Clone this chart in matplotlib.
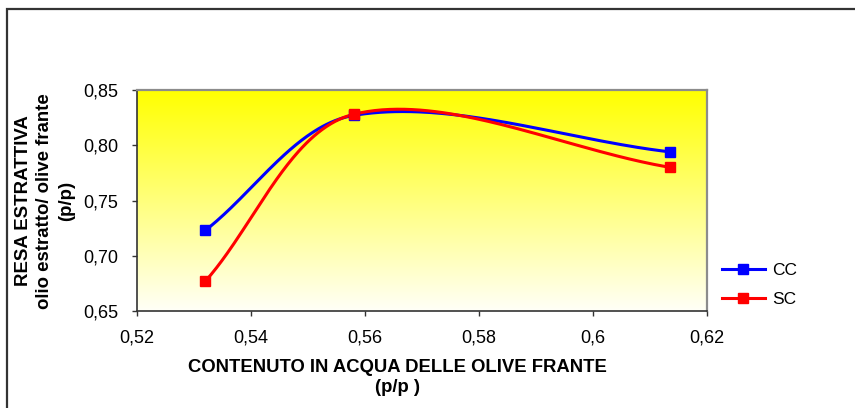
import numpy as np
import matplotlib
matplotlib.use("Agg")
import matplotlib.pyplot as plt
from matplotlib.patches import Rectangle
from matplotlib.lines import Line2D

plt.rcParams['font.family'] = ['Liberation Sans', 'DejaVu Sans']

# Water content of the crushed olives (p/p) and extraction yield (p/p)
water = [0.532, 0.558, 0.6135]
resa_cc = [0.723, 0.827, 0.794]
resa_sc = [0.677, 0.828, 0.780]
series_names = ["CC", "SC"]
series_colors = ["#0000FF", "#FF0000"]

x_ticks = [0.52, 0.54, 0.56, 0.58, 0.60, 0.62]
x_tick_labels = ["0,52", "0,54", "0,56", "0,58", "0,6", "0,62"]
y_ticks = [0.65, 0.70, 0.75, 0.80, 0.85]
y_tick_labels = ["0,65", "0,70", "0,75", "0,80", "0,85"]

W, H = 855, 408
fig = plt.figure(figsize=(W / 100, H / 100), dpi=100)
fig.patch.set_facecolor("white")

# outer chart frame (open at right/bottom edges)
frame = Rectangle((6.5 / W, -0.1), 1.2, 1 - 8.5 / H + 0.1, transform=fig.transFigure,
                  fill=False, edgecolor="#333333", linewidth=1.6)
fig.add_artist(frame)

ax = fig.add_axes([137 / W, 1 - 311 / H, 570 / W, 221 / H])
ax.set_xlim(0.52, 0.62)
ax.set_ylim(0.65, 0.85)

# vertical yellow -> white gradient in the plot area
grad = np.linspace(0, 1, 256)[:, None]
top = np.array([1.0, 1.0, 0.0])
bot = np.array([1.0, 1.0, 0.97])
img = top[None, None, :] * (1 - grad[:, :, None]) + bot[None, None, :] * grad[:, :, None]
ax.imshow(img, extent=[0, 1, 0, 1], transform=ax.transAxes, aspect="auto",
          zorder=0, interpolation="bilinear")


def smooth_curve(xs, ys, n=80):
    """Bezier smoothing (tension 1/6, arms weighted by chord length),
    computed in display space."""
    pts = ax.transData.transform(np.column_stack([xs, ys]))
    k = len(pts)
    out = []
    for i in range(k - 1):
        p1, p2 = pts[i], pts[i + 1]
        p0 = pts[i - 1] if i > 0 else p1
        p3 = pts[i + 2] if i + 2 < k else p2
        d01 = np.hypot(*(p1 - p0))
        d12 = np.hypot(*(p2 - p1))
        d23 = np.hypot(*(p3 - p2))
        c1 = p1 + (p2 - p0) * d12 / (3.0 * (d01 + d12))
        c2 = p2 - (p3 - p1) * d12 / (3.0 * (d12 + d23))
        t = np.linspace(0, 1, n)[:, None]
        seg = ((1 - t) ** 3) * p1 + 3 * ((1 - t) ** 2) * t * c1 \
            + 3 * (1 - t) * t ** 2 * c2 + t ** 3 * p2
        out.append(seg if i == 0 else seg[1:])
    out = np.vstack(out)
    data = ax.transData.inverted().transform(out)
    return data[:, 0], data[:, 1]


for ys, name, col in zip([resa_cc, resa_sc], series_names, series_colors):
    sx, sy = smooth_curve(water, ys)
    ax.plot(sx, sy, color=col, linewidth=2.2, zorder=3, solid_capstyle="round")
    ax.plot(water, ys, linestyle="none", marker="s", markersize=7,
            color=col, zorder=4)

ax.set_xticks(x_ticks)
ax.set_xticklabels(x_tick_labels, fontsize=13)
ax.set_yticks(y_ticks)
ax.set_yticklabels(y_tick_labels, fontsize=13)
ax.tick_params(axis="both", direction="out", length=3.6, width=1, color="#333333")
ax.tick_params(axis="x", pad=10)
ax.tick_params(axis="y", pad=10)

for side in ["left", "bottom"]:
    ax.spines[side].set_color("#333333")
    ax.spines[side].set_linewidth(1.2)
for side in ["top", "right"]:
    ax.spines[side].set_color("#8c8c8c")
    ax.spines[side].set_linewidth(1.6)

fig.text(397 / W, 1 - 377.5 / H, "CONTENUTO IN ACQUA DELLE OLIVE FRANTE\n(p/p )",
         fontsize=13.3, fontweight="bold", ha="center", va="center",
         multialignment="center", linespacing=1.3)
fig.text(45 / W, 1 - 201 / H, "RESA ESTRATTIVA\nolio estratto/ olive frante\n(p/p)",
         fontsize=13.4, fontweight="bold", ha="center", va="center", rotation=90,
         multialignment="center", linespacing=1.35)

handles = [Line2D([], [], color=c, linewidth=2.2, marker="s", markersize=7)
           for c in series_colors]
leg = fig.legend(handles, series_names, loc="center left",
                 bbox_to_anchor=(706 / W, 1 - 285 / H), frameon=False,
                 fontsize=12.5, handlelength=2.5, handletextpad=0.4,
                 labelspacing=0.75)

fig.savefig("out.png", dpi=100, facecolor="white")
